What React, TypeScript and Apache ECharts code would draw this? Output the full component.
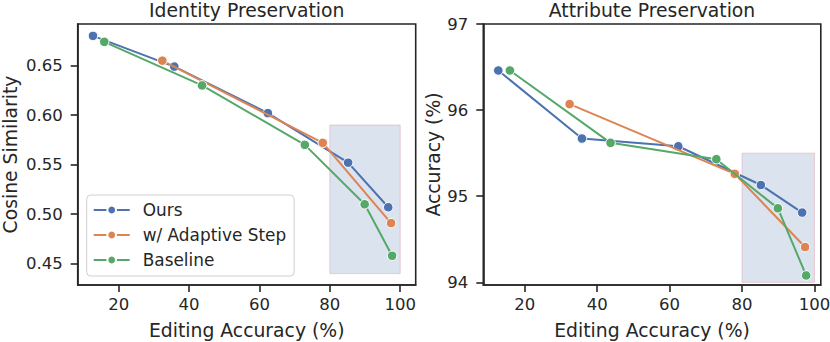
import React, { useEffect, useRef } from "react";
import * as echarts from "echarts";

// ---- data ----
const seriesNames = ["Ours", "w/ Adaptive Step", "Baseline"];
const oursX = [12.7, 35.8, 62.4, 85.2, 96.6];
const adaptiveX = [32.4, 78.0, 97.4];
const baselineX = [15.9, 43.7, 72.9, 89.9, 97.7];

const oursIdentity = [0.680, 0.649, 0.602, 0.552, 0.507];
const adaptiveIdentity = [0.655, 0.572, 0.491];
const baselineIdentity = [0.674, 0.630, 0.570, 0.510, 0.458];

const oursAttribute = [96.46, 95.67, 95.58, 95.13, 94.81];
const adaptiveAttribute = [96.07, 95.26, 94.41];
const baselineAttribute = [96.46, 95.62, 95.43, 94.86, 94.08];

const xTicks = [20, 40, 60, 80, 100];
const identityTicks = [0.45, 0.5, 0.55, 0.6, 0.65];
const attributeTicks = [94, 95, 96, 97];

const identityBox = [[80, 0.44], [100, 0.59]];
const attributeBox = [[80, 94.0], [100, 95.5]];

const titles = ["Identity Preservation", "Attribute Preservation"];
const xName = "Editing Accuracy (%)";
const yNames = ["Cosine Similarity", "Accuracy (%)"];

const colors = ["#4C72B0", "#DD8452", "#55A868"];

const FONT = "'DejaVu Sans', sans-serif";
const INK = "#262626";
const FS = 16.5;
const FS_BIG = 18.8;

const zip = (xs: number[], ys: number[]) => xs.map((x, i) => [x, ys[i]]);

export default function App() {
  const ref = useRef<HTMLDivElement>(null);
  useEffect(() => {
    const chart = echarts.init(ref.current!, null, { renderer: "svg" });
    const grids = [
      { left: 77.7, top: 24, width: 338, height: 261 },
      { left: 483.3, top: 24, width: 337.5, height: 261 },
    ];
    const xRanges = [
      [8.36, 104.4],
      [8.56, 101.75],
    ];
    const yRanges = [
      [0.4285, 0.692],
      [93.969, 97],
    ];
    const yTicksAll = [identityTicks, attributeTicks];
    const yGaps = [58, 40.5];
    const makeX = (i: number) => ({
      type: "value",
      gridIndex: i,
      min: xRanges[i][0],
      max: xRanges[i][1],
      name: xName,
      nameLocation: "middle",
      nameGap: 36,
      nameTextStyle: { fontFamily: FONT, fontSize: FS_BIG, lineHeight: 19, color: INK },
      axisLine: { show: true, lineStyle: { color: INK, width: 1.6 } },
      axisTick: {
        show: true,
        length: 7,
        lineStyle: { color: INK, width: 1.6 },
        customValues: xTicks,
      },
      axisLabel: {
        fontFamily: FONT,
        fontSize: FS,
        color: INK,
        margin: 11,
        customValues: xTicks,
      },
      splitLine: { show: false },
    });
    const makeY = (i: number) => ({
      type: "value",
      gridIndex: i,
      min: yRanges[i][0],
      max: yRanges[i][1],
      name: yNames[i],
      nameLocation: "middle",
      nameGap: yGaps[i],
      nameTextStyle: { fontFamily: FONT, fontSize: FS_BIG, color: INK },
      axisLine: { show: true, lineStyle: { color: INK, width: 1.6 } },
      axisTick: {
        show: true,
        length: 7,
        lineStyle: { color: INK, width: 1.6 },
        customValues: yTicksAll[i],
      },
      axisLabel: {
        fontFamily: FONT,
        fontSize: FS,
        color: INK,
        margin: 15,
        customValues: yTicksAll[i],
        formatter: (v: number) => (i === 0 ? v.toFixed(2) : String(Math.round(v))),
      },
      splitLine: { show: false },
    });
    const lineSeries = (name: string, ci: number, data: number[][], gi: number, box?: number[][]) => {
      const s: any = {
        type: "line",
        name,
        xAxisIndex: gi,
        yAxisIndex: gi,
        data,
        color: colors[ci],
        symbol: "circle",
        symbolSize: 9.5,
        showSymbol: true,
        lineStyle: { width: 2, color: colors[ci] },
        itemStyle: { color: colors[ci], borderColor: "#fff", borderWidth: 1 },
        z: 3 + ci,
      };
      if (box) {
        s.markArea = {
          silent: true,
          z: 1,
          itemStyle: {
            color: "rgba(76,114,176,0.2)",
            borderColor: "rgba(230,150,165,0.45)",
            borderWidth: 1,
          },
          data: [[{ coord: box[0] }, { coord: box[1] }]],
        };
      }
      return s;
    };
    chart.setOption({
      animation: false,
      title: titles.map((t, i) => ({
        text: t,
        left: grids[i].left + grids[i].width / 2,
        top: 0,
        padding: 0,
        textAlign: "center",
        textStyle: {
          fontFamily: FONT,
          fontSize: FS_BIG,
          lineHeight: 20,
          fontWeight: "normal",
          color: INK,
        },
      })),
      legend: {
        data: seriesNames,
        orient: "vertical",
        left: 86.7,
        top: 195,
        itemWidth: 36,
        itemHeight: 11,
        itemGap: 5,
        padding: [5, 8, 6, 6],
        borderColor: "#d0d0d0",
        borderWidth: 1,
        borderRadius: 4,
        backgroundColor: "#ffffff",
        textStyle: {
          fontFamily: FONT,
          fontSize: 16.9,
          color: INK,
          lineHeight: 20,
          padding: [0, 0, 0, 8],
        },
      },
      grid: grids.map((g) => ({
        ...g,
        show: true,
        outerBoundsMode: "none",
        containLabel: false,
        borderColor: INK,
        borderWidth: 1.6,
        backgroundColor: "transparent",
      })),
      xAxis: [makeX(0), makeX(1)],
      yAxis: [makeY(0), makeY(1)],
      series: [
        lineSeries(seriesNames[0], 0, zip(oursX, oursIdentity), 0, identityBox),
        lineSeries(seriesNames[1], 1, zip(adaptiveX, adaptiveIdentity), 0),
        lineSeries(seriesNames[2], 2, zip(baselineX, baselineIdentity), 0),
        lineSeries(seriesNames[0], 0, zip(oursX, oursAttribute), 1, attributeBox),
        lineSeries(seriesNames[1], 1, zip(adaptiveX, adaptiveAttribute), 1),
        lineSeries(seriesNames[2], 2, zip(baselineX, baselineAttribute), 1),
      ],
    });
    return () => chart.dispose();
  }, []);
  return (
    <div
      ref={ref}
      style={{ position: "absolute", left: 0, top: 0, width: 830, height: 342, background: "#fff" }}
    />
  );
}
